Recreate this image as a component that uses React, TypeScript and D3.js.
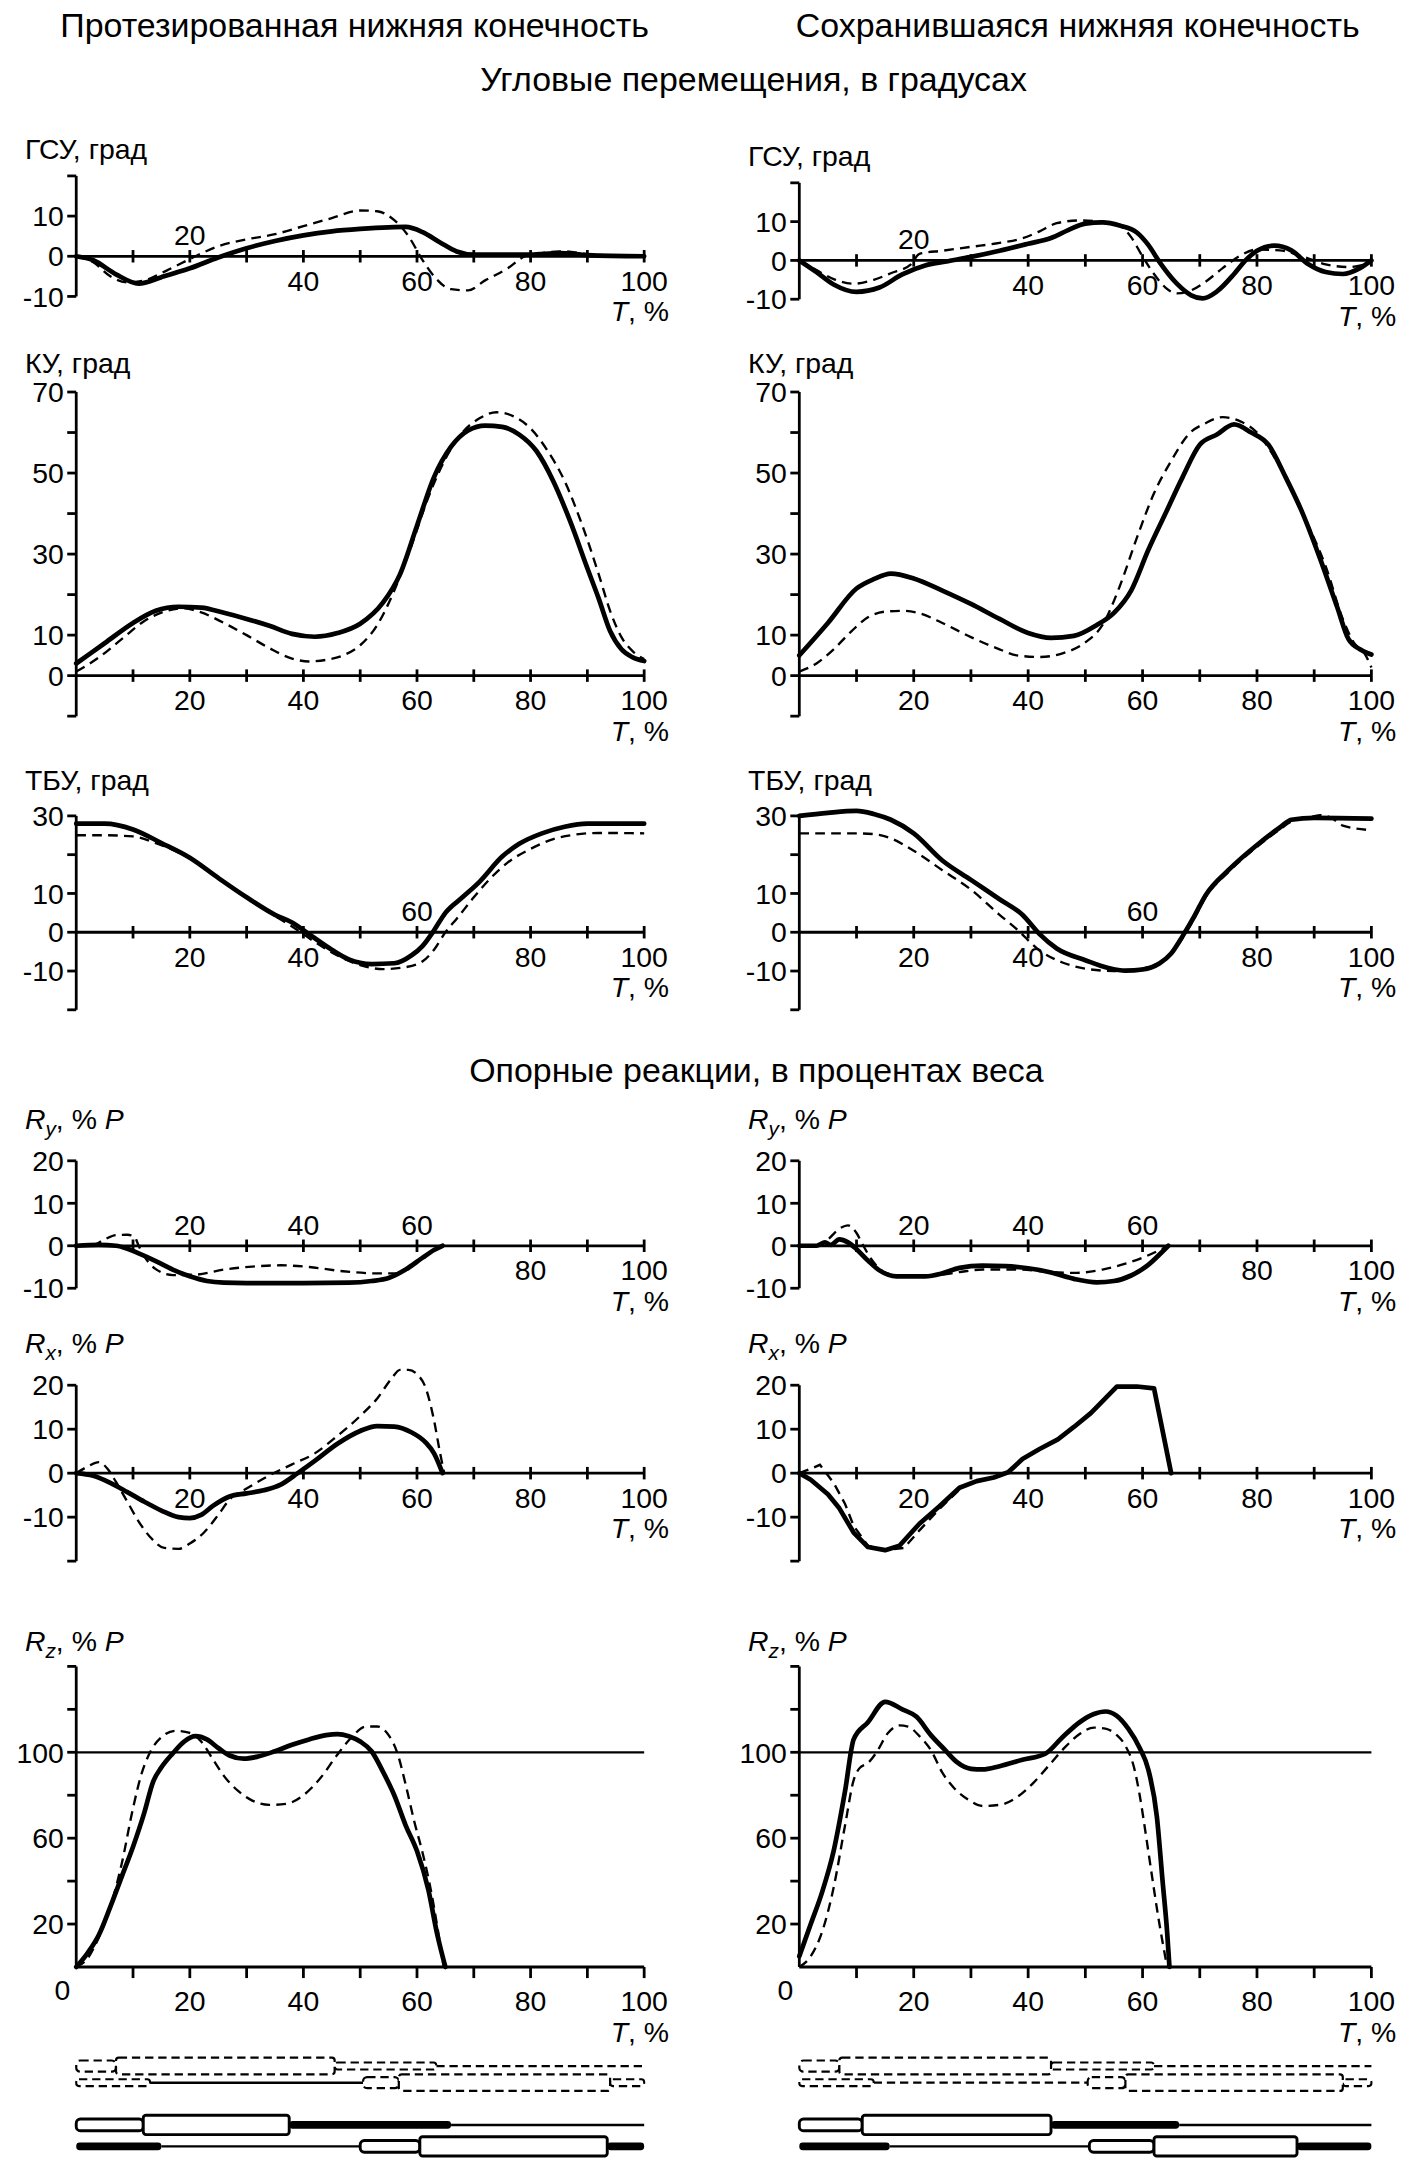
import type { ReactNode } from 'react';
import * as d3 from 'd3';

const VW = 1020;
const VH = 1568;
const FONT = '"Liberation Sans", Arial, Helvetica, sans-serif';
const INK = '#000';
const TICK_FS = 20.5;
const TITLE_FS = 24.5;

const X_RANGE_L: [number, number] = [55, 465];
const X_RANGE_R: [number, number] = [577, 990];

type Pt = [number, number];

// --- угловые перемещения: протез (L) / сохранившаяся (R); solid = thick line, dashed = thin dashed line
const GSU_L_SOLID: Pt[] = [[0,0],[3,-1],[7,-4.5],[11,-6.8],[15,-5.2],[20,-3],[25,-0.3],[30,2],[35,3.8],[40,5.2],[45,6.2],[50,6.8],[55,7.2],[58,7.3],[61,6],[64,3.5],[67,1.2],[70,0.4],[80,0.4],[85,0.8],[90,0.3],[100,0]];
const GSU_L_DASH: Pt[] = [[0,0],[3,-1.5],[6,-5],[9,-6.5],[12,-6],[16,-3.5],[21,0],[25,2.5],[30,4.2],[35,5.5],[40,7.5],[45,9.5],[50,11.4],[53,11.2],[56,9],[58.5,5],[61,-1],[63,-5],[66,-8.2],[69,-8.5],[72,-6],[76,-3],[79,0],[82,0.8],[86,1.2],[90,0.5],[100,0]];
const GSU_R_SOLID: Pt[] = [[0,0],[3,-3],[6,-6.2],[10,-8.1],[14,-7],[18,-3.6],[22,-1.3],[26,-0.2],[30,0.9],[35,2.5],[40,4.3],[44,5.8],[47,7.8],[50,9.5],[53,9.8],[56,9],[59,7.2],[61,4],[63,-0.5],[66,-6],[68.5,-9],[70.5,-9.8],[73,-8],[76,-3.5],[78,0],[80,2.5],[83,3.8],[86,2.6],[89,-1],[92,-3],[95,-3.5],[98,-2],[100,0]];
const GSU_R_DASH: Pt[] = [[0,0],[3,-2.5],[6,-4.8],[9.5,-6],[13,-5],[16,-3.3],[19.5,-1],[21,1.7],[25,2.5],[30,3.5],[35,4.5],[39,5.7],[42,7.5],[45,9.6],[49,10.3],[53,10],[56,9],[58,6],[60,1],[62,-3.5],[64,-7],[66,-8.5],[68,-8],[71,-5.5],[74,-2],[77,1.2],[80,2.8],[84,2.6],[88,1],[92,-1],[96,-1.7],[100,-0.5]];

const KU_L_SOLID: Pt[] = [[0,3],[5,8],[10,13],[14,16],[18,17],[22,16.8],[26,15.5],[30,14],[34,12.3],[38,10.3],[42,9.6],[46,10.5],[50,12.8],[54,18],[57,25],[60,37],[63,49],[66,56.5],[69,60.5],[72,61.7],[75,61.4],[78,59.5],[81,55.5],[84,48],[87,38],[90,26.5],[92,19],[94,11],[96,6.5],[98,4.5],[100,3.6]];
const KU_L_DASH: Pt[] = [[0,1],[4,4.5],[8,9],[12,13.5],[16,16],[19,16.6],[22,15.6],[26,13],[30,10],[34,6.8],[38,4.2],[41,3.5],[44,3.9],[47,5],[50,7.5],[53,12.5],[56,21],[59,32],[62,44],[65,53.5],[68,60],[71,63.5],[74,65],[77,64],[80,61],[83,55.5],[86,48],[89,37.5],[92,25],[94,16],[96,9.5],[98,6],[100,4.1]];
const KU_R_SOLID: Pt[] = [[0,5],[5,13],[10,21.5],[13,23.8],[16,25.2],[20,24],[25,21],[30,17.7],[35,14],[40,10.5],[44,9.3],[48,9.8],[52,12.5],[55,15.5],[58,21],[61,31],[64,40],[67,49],[70,57],[73,59.5],[76,62],[79,60],[82,57],[85,49],[88,40],[91,29],[94,17],[96,9],[98,6.5],[100,5.2]];
const KU_R_DASH: Pt[] = [[0,1],[3,3],[6,6.5],[9,10.8],[12,14.4],[15,15.8],[18,16],[21,15.4],[25,13],[30,9.5],[35,6.5],[38,5],[42,4.6],[46,5.5],[50,8.2],[53,12.5],[56,22],[59,34],[62,45],[65,53],[68,59.5],[71,62.3],[74,63.8],[77,62.8],[80,60],[83,54],[86,46],[89,37],[92,27],[95,14],[97,8],[99,5],[100,2]];

const TBU_L_SOLID: Pt[] = [[0,28],[5,28],[10,26.5],[15,23],[20,19.2],[25,14],[30,9],[35,4.5],[38,2.5],[41,-0.5],[45,-4.5],[48,-7],[52,-8.2],[56,-8],[59,-6],[61,-3.5],[63,0.5],[65,5],[68,9],[71,13],[75,19.5],[78,22.8],[82,25.5],[86,27.2],[90,28],[100,28]];
const TBU_L_DASH: Pt[] = [[0,25],[5,25],[10,24.7],[14,23],[20,19],[25,14],[30,8.8],[35,4.2],[38,1.5],[42,-2.5],[46,-6],[50,-8.5],[54,-9.5],[58,-9],[61,-7.5],[63,-4.5],[65,0],[67,3.5],[70,9],[73,14],[76,18],[80,21.5],[84,24],[88,25.2],[92,25.6],[100,25.5]];
const TBU_R_SOLID: Pt[] = [[0,30],[5,30.8],[10,31.3],[13,30.5],[16,29],[20,25.5],[25,18.5],[30,13.5],[35,8.5],[39,4.5],[42,-0.5],[45,-4.2],[50,-7.2],[54,-9.2],[57,-9.9],[60,-9.6],[63,-8],[65,-5.5],[67,-1],[69,4],[71,9.5],[75,16],[80,22.5],[84,27],[86,29],[90,29.5],[100,29.3]];
const TBU_R_DASH: Pt[] = [[0,25.5],[5,25.5],[10,25.5],[13,25.3],[16,24.2],[20,21],[25,16],[30,11],[35,4.5],[38,0.8],[42,-4.7],[46,-7.8],[51,-9.6],[55,-10],[58,-9.8],[61,-9],[63,-7.8],[65,-5.5],[67,-1.5],[69,3.5],[71,9],[75,15.5],[80,22],[84,26.5],[86,28.5],[89,29.5],[91,30.2],[93,29.5],[95,27.5],[100,26.3]];

// --- опорные реакции
const RY_L_SOLID: Pt[] = [[0,0],[4,0.2],[7,0],[9,-0.7],[11,-1.8],[14,-3.6],[17,-5.6],[20,-7.2],[23,-8.3],[26,-8.7],[30,-8.8],[40,-8.8],[48,-8.7],[52,-8.3],[55,-7.6],[58,-5.6],[61,-2.8],[63,-1],[64.5,0]];
const RY_L_DASH: Pt[] = [[0,0],[3,0.2],[5,1.5],[7,2.5],[9,2.6],[10.3,2],[11,0],[12,-2.5],[14,-5.5],[17,-6.9],[21,-6.8],[26,-5.6],[31,-4.9],[36,-4.6],[41,-5],[47,-6],[53,-6.5],[56,-6.5],[58,-5.5],[61,-2.8],[63,-1],[64.5,0]];
const RY_R_SOLID: Pt[] = [[0,0],[3,0],[4.5,0.8],[5.5,0.2],[7,1.5],[8.5,0.8],[10,-0.8],[12,-3.5],[14,-5.8],[17,-7.2],[22,-7.2],[25,-6.5],[28,-5.2],[32,-4.7],[36,-4.8],[40,-5.3],[44,-6.3],[48,-7.8],[52,-8.6],[55,-8.3],[58,-7],[61,-4.5],[63,-2],[64.5,0]];
const RY_R_DASH: Pt[] = [[0,0],[3,0],[5,1.5],[7,4],[8.5,4.8],[10,3],[11,0.5],[12.5,-3],[15,-6.3],[18,-7.2],[22,-7.2],[25,-6.8],[28,-6.2],[32,-5.6],[38,-5.6],[44,-6.2],[48,-6.4],[53,-5.6],[57,-4.2],[60,-2.8],[63,-1],[64.5,0]];

const RX_L_SOLID: Pt[] = [[0,0],[3,-0.6],[6,-2.2],[9,-4.3],[12,-6.5],[15,-8.5],[18,-10],[20,-10.2],[22,-9.5],[24,-7.5],[27,-5.3],[30,-4.6],[33,-3.9],[36,-2.6],[39,0],[42,2.8],[46,6.7],[50,9.6],[53,10.7],[56,10.6],[59,9.3],[61.5,7],[63,4.5],[64.5,0]];
const RX_L_DASH: Pt[] = [[0,0],[2,1.5],[4,2.5],[5.5,1],[7,-2],[9,-6.5],[11,-11],[13,-14.5],[15.5,-17],[18,-17.2],[20,-16],[22.5,-13.5],[25,-9.5],[27,-6],[30,-3.5],[34,-0.5],[38,2],[42,4.5],[46,8.5],[50,13],[53,17],[55.5,21.5],[57,23.5],[58.5,23.5],[60,22.5],[61.5,19.5],[63,12],[64,5],[64.8,0]];
const RX_R_SOLID: Pt[] = [[0,0],[2,-1.5],[5,-4.8],[7,-8],[9.5,-13.5],[12,-16.8],[15,-17.5],[17.5,-16.5],[21,-11.5],[24.5,-7.5],[28,-3.3],[31,-1.8],[34,-1],[36.5,0.2],[39,3.2],[42,5.5],[45.2,7.7],[48,10.5],[51,13.7],[55.5,19.7],[59,19.7],[62,19.3],[65,0]];
const RX_R_DASH: Pt[] = [[0,0],[2,1],[3.6,1.9],[6,-2.2],[8,-7],[9.5,-12],[12,-16.5],[15,-17.5],[18.3,-17],[21,-13],[24.6,-8],[28.6,-3],[31,-1.8],[34,-1],[36.5,0.2]];

const RZ_L_SOLID: Pt[] = [[0,0],[2,6.5],[4,15],[6,28],[8,42],[10,56],[12,72],[13.5,86],[15,93],[17,99.5],[19,105],[21,107.5],[23,106],[25,102],[27,98.5],[29.5,97],[32,98],[35,100.5],[38,103.5],[41,106],[44,108],[46,108.5],[48,107.5],[50,105],[52,100.5],[54,91],[56,80],[58,66],[60,54],[62,36],[63.5,16],[65,0]];
const RZ_L_DASH: Pt[] = [[0,0],[2,4],[4,14],[6,28],[8,48],[10,74],[11.5,90],[13,100],[15,107],[17.5,110],[20,109],[22,105],[24,97],[26,89],[28.5,82],[31,77.5],[34,75.5],[37,76],[40,80],[43,88],[46,99],[48.5,107],[51,112],[53,112],[55,108],[56.5,100],[58,85],[59.5,68],[61,53],[62.5,35],[63.5,20],[64.7,0]];
const RZ_R_SOLID: Pt[] = [[0,5],[2,20],[4,35],[6,54],[8,82],[9.5,106],[12,114],[15,123.5],[18,120],[20.5,116.5],[23,108],[25.5,101],[27.5,95.5],[30,92.3],[32,92],[35,93.5],[39,96.5],[43,99.3],[46,107],[49,114],[51.5,117.8],[53.5,119],[55.5,117],[57.5,111],[59.5,102],[61,92],[62.5,70],[63.5,40],[64.3,16],[64.7,0]];
const RZ_R_DASH: Pt[] = [[0,0],[2,5],[4,16.5],[6,37],[8,66],[9.5,87],[10.5,92.5],[12,95],[13.5,100],[15.5,109],[17.5,112.5],[19,112],[21,107.5],[23,101],[25,90.5],[27,83.5],[29.5,78],[32,75],[35,75.5],[38,79],[41,86],[44,95],[46.5,102.5],[49,108.5],[51.5,111.5],[53.5,111],[55.5,108],[57,103],[58.5,93],[59.5,80],[60.5,63],[61.5,45],[62.7,24],[64.3,0]];

// --- фазы шага: [вид, начало %, конец %]
type Seg = ['box' | 'narrow' | 'thick' | 'thin', number, number];
const GAIT_L_DASH_1: Seg[] = [['narrow',0,7],['box',7,45.5],['thick',45.5,63.4],['thin',63.4,100]];
const GAIT_L_DASH_2: Seg[] = [['thick',0,13],['thin',13,50.5],['narrow',50.5,56.8],['box',56.8,94],['thick',94,100]];
const GAIT_L_SOLID_1: Seg[] = [['narrow',0,11.8],['box',11.8,37.5],['thick',37.5,66],['thin',66,100]];
const GAIT_L_SOLID_2: Seg[] = [['thick',0,15],['thin',15,50],['narrow',50,60.5],['box',60.5,93.5],['thick',93.5,100]];
const GAIT_R_DASH_1: Seg[] = [['narrow',0,7],['box',7,44],['thick',44,62],['thin',62,100]];
const GAIT_R_DASH_2: Seg[] = [['thick',0,13],['thin',13,50.4],['narrow',50.4,57],['box',57,95],['thick',95,100]];
const GAIT_R_SOLID_1: Seg[] = [['narrow',0,11],['box',11,44],['thick',44,66.4],['thin',66.4,100]];
const GAIT_R_SOLID_2: Seg[] = [['thick',0,15.8],['thin',15.8,50.7],['narrow',50.7,62],['box',62,87],['thick',87,100]];

const X_TICKS = d3.range(10, 101, 10);
const X_LABELS = [20, 40, 60, 80, 100];

const grad = (name: string) => <>{name}, град</>;
const rLabel = (sub: string) => (
  <>
    <tspan fontStyle="italic">R</tspan>
    <tspan fontStyle="italic" fontSize={15} dy={5}>{sub}</tspan>
    <tspan dy={-5}>, % </tspan>
    <tspan fontStyle="italic">P</tspan>
  </>
);

interface PanelSpec {
  side: 'L' | 'R';
  label: ReactNode;
  labelY: number;
  domain: [number, number];
  top: number;
  bottom: number;
  yStep: number;
  yLabels: number[];
  above: number[];
  solid: Pt[];
  dashed: Pt[];
  linear?: boolean;
  rz?: boolean;
}

const rowsFor = (side: 'L' | 'R'): PanelSpec[] => {
  const L = side === 'L';
  return [
    { side, label: grad('ГСУ'), labelY: L ? 115 : 120, domain: [-10, 20], top: L ? 127 : 132, bottom: L ? 214 : 216, yStep: 10,
      yLabels: [10, 0, -10], above: [20], solid: L ? GSU_L_SOLID : GSU_R_SOLID, dashed: L ? GSU_L_DASH : GSU_R_DASH },
    { side, label: grad('КУ'), labelY: 269, domain: [-10, 70], top: 283, bottom: 517, yStep: 10,
      yLabels: [70, 50, 30, 10, 0], above: [], solid: L ? KU_L_SOLID : KU_R_SOLID, dashed: L ? KU_L_DASH : KU_R_DASH },
    { side, label: grad('ТБУ'), labelY: 570, domain: [-20, 30], top: 589, bottom: 729, yStep: 10,
      yLabels: [30, 10, 0, -10], above: [60], solid: L ? TBU_L_SOLID : TBU_R_SOLID, dashed: L ? TBU_L_DASH : TBU_R_DASH },
    { side, label: rLabel('y'), labelY: 815, domain: [-10, 20], top: 838, bottom: 930, yStep: 10,
      yLabels: [20, 10, 0, -10], above: [20, 40, 60], solid: L ? RY_L_SOLID : RY_R_SOLID, dashed: L ? RY_L_DASH : RY_R_DASH },
    { side, label: rLabel('x'), labelY: 977, domain: [-20, 20], top: 1000, bottom: 1127, yStep: 10,
      yLabels: [20, 10, 0, -10], above: [], solid: L ? RX_L_SOLID : RX_R_SOLID, dashed: L ? RX_L_DASH : RX_R_DASH, linear: !L },
    { side, label: rLabel('z'), labelY: 1192, domain: [0, 140], top: 1203, bottom: 1420, yStep: 20,
      yLabels: [100, 60, 20], above: [], solid: L ? RZ_L_SOLID : RZ_R_SOLID, dashed: L ? RZ_L_DASH : RZ_R_DASH, rz: true },
  ];
};

const PANELS: PanelSpec[] = [...rowsFor('L'), ...rowsFor('R')];

function xScaleFor(side: 'L' | 'R') {
  return d3.scaleLinear().domain([0, 100]).range(side === 'L' ? X_RANGE_L : X_RANGE_R);
}

function Panel({ p }: { p: PanelSpec }) {
  const x = xScaleFor(p.side);
  const y = d3.scaleLinear().domain(p.domain).range([p.bottom, p.top]);
  const ax = x(0);
  const y0 = y(0);
  const line = d3.line<Pt>()
    .x(d => x(d[0]))
    .y(d => y(d[1]))
    .curve(p.linear ? d3.curveLinear : d3.curveMonotoneX);
  const yTicks = d3.range(p.domain[0], p.domain[1] + 0.01, p.yStep).filter(v => !(p.rz && v === 0));
  const below = X_LABELS.filter(v => !p.above.includes(v));
  const belowY = p.rz ? y0 + 32 : y0 + 25;

  return (
    <g>
      <text x={ax - 37} y={p.labelY} fontSize={TICK_FS}>{p.label}</text>

      {p.rz && (
        <line x1={x(0)} x2={x(100)} y1={y(100)} y2={y(100)} stroke={INK} strokeWidth={1.6} />
      )}

      <line x1={ax} x2={ax} y1={y(p.domain[1])} y2={y(p.domain[0])} stroke={INK} strokeWidth={2} />
      {yTicks.map(v => (
        <line key={`yt${v}`} x1={ax - 6.5} x2={ax} y1={y(v)} y2={y(v)} stroke={INK} strokeWidth={2} />
      ))}
      {p.yLabels.map(v => (
        <text key={`yl${v}`} x={ax - 9} y={y(v)} dy="0.36em" textAnchor="end" fontSize={TICK_FS}>
          {v}
        </text>
      ))}

      <line x1={ax} x2={x(100)} y1={y0} y2={y0} stroke={INK} strokeWidth={2} />
      {X_TICKS.map(v => (
        <line key={`xt${v}`} x1={x(v)} x2={x(v)}
          y1={p.rz ? y0 : y0 - 4.5} y2={p.rz ? y0 + 8 : y0 + 4.5}
          stroke={INK} strokeWidth={2} />
      ))}
      {p.above.map(v => (
        <text key={`xa${v}`} x={x(v)} y={y0 - 8} textAnchor="middle" fontSize={TICK_FS}>{v}</text>
      ))}
      {below.map(v => (
        <text key={`xb${v}`} x={x(v)} y={belowY} textAnchor="middle" fontSize={TICK_FS}>{v}</text>
      ))}
      {p.rz && (
        <text x={ax - 10} y={y0 + 24} textAnchor="middle" fontSize={TICK_FS}>0</text>
      )}
      <text x={x(100) + 18} y={p.rz ? y0 + 54 : y0 + 47} textAnchor="end" fontSize={TICK_FS}>
        <tspan fontStyle="italic">T</tspan>, %
      </text>

      <path d={line(p.dashed) ?? ''} fill="none" stroke={INK} strokeWidth={1.7} strokeDasharray="7 4.5" />
      <path d={line(p.solid) ?? ''} fill="none" stroke={INK} strokeWidth={3.4}
        strokeLinejoin="round" strokeLinecap="round" />
    </g>
  );
}

const ORDER: Record<Seg[0], number> = { thin: 0, thick: 1, narrow: 2, box: 3 };

function GaitRow({ segs, side, cy, dashed, solidThin }: {
  segs: Seg[]; side: 'L' | 'R'; cy: number; dashed: boolean; solidThin?: boolean;
}) {
  const x = xScaleFor(side);
  const sorted = [...segs].sort((a, b) => ORDER[a[0]] - ORDER[b[0]]);
  const dash = '6 3.5';
  return (
    <g>
      {sorted.map(([kind, a, b], i) => {
        const x0 = x(a);
        const w = x(b) - x(a);
        if (kind === 'thin') {
          const plain = !dashed || solidThin;
          return (
            <line key={i} x1={x0} x2={x0 + w} y1={cy} y2={cy} stroke={INK}
              strokeWidth={plain ? 1.8 : 1.6} strokeDasharray={plain ? undefined : dash} />
          );
        }
        if (kind === 'thick') {
          const h = dashed ? 5 : 5.5;
          return dashed ? (
            <rect key={i} x={x0} y={cy - h / 2} width={w} height={h} rx={2}
              fill="#fff" stroke={INK} strokeWidth={1.5} strokeDasharray={dash} />
          ) : (
            <rect key={i} x={x0} y={cy - h / 2} width={w} height={h} rx={2.5} fill={INK} />
          );
        }
        const h = kind === 'box' ? (dashed ? 12 : 14) : (dashed ? 8 : 8.5);
        return (
          <rect key={i} x={x0} y={cy - h / 2} width={w} height={h} rx={kind === 'box' ? 2 : 3}
            fill="#fff" stroke={INK} strokeWidth={dashed ? 1.6 : 2.1}
            strokeDasharray={dashed ? dash : undefined} />
        );
      })}
    </g>
  );
}

export default function App() {
  return (
    <svg
      width={1413}
      height={2172}
      viewBox={`0 0 ${VW} ${VH}`}
      style={{ position: 'absolute', left: 0, top: 0, background: '#fff', display: 'block' }}
      fontFamily={FONT}
      fill={INK}
    >
      <rect x={0} y={0} width={VW} height={VH} fill="#fff" />

      <text x={256} y={27} textAnchor="middle" fontSize={TITLE_FS}>Протезированная нижняя конечность</text>
      <text x={778} y={27} textAnchor="middle" fontSize={TITLE_FS}>Сохранившаяся нижняя конечность</text>
      <text x={544} y={66} textAnchor="middle" fontSize={TITLE_FS}>Угловые перемещения, в градусах</text>
      <text x={546} y={781} textAnchor="middle" fontSize={TITLE_FS}>Опорные реакции, в процентах веса</text>

      {PANELS.map((p, i) => <Panel key={i} p={p} />)}

      <GaitRow segs={GAIT_L_DASH_1} side="L" cy={1491.5} dashed />
      <GaitRow segs={GAIT_L_DASH_2} side="L" cy={1503.5} dashed solidThin />
      <GaitRow segs={GAIT_L_SOLID_1} side="L" cy={1534} dashed={false} />
      <GaitRow segs={GAIT_L_SOLID_2} side="L" cy={1549.5} dashed={false} />

      <GaitRow segs={GAIT_R_DASH_1} side="R" cy={1491.5} dashed />
      <GaitRow segs={GAIT_R_DASH_2} side="R" cy={1503.5} dashed />
      <GaitRow segs={GAIT_R_SOLID_1} side="R" cy={1534} dashed={false} />
      <GaitRow segs={GAIT_R_SOLID_2} side="R" cy={1549.5} dashed={false} />
    </svg>
  );
}
